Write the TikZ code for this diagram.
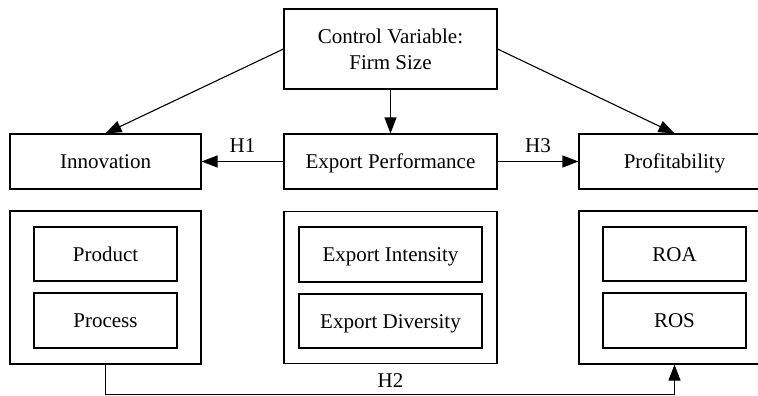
\documentclass[tikz,border=0pt]{standalone}
\usepackage{fontspec}
\setmainfont{Liberation Serif}
\usetikzlibrary{arrows.meta}

\begin{document}
\begin{tikzpicture}[x=1pt,y=-1pt,>={Triangle[length=16pt,width=12pt]},line cap=butt,line join=miter,
  box/.style={draw,line width=1.1pt,inner sep=0pt,font=\fontsize{21}{26}\selectfont,align=center,text height=14pt,text depth=0pt},
  link/.style={->,line width=1.1pt}]
\useasboundingbox (0,0) rectangle (758,396);
\clip (0,0) rectangle (758,396);
\coordinate (c) at (390.5,49);
\coordinate (I) at (105.5,161.5);
\coordinate (E) at (390.5,161.5);
\coordinate (P) at (674.5,161.5);
\coordinate (Iset) at (105.5,287.5);
\coordinate (Eset) at (390.5,287.5);
\coordinate (Pset) at (674.5,287.5);
\coordinate (h2) at (390.5,394.5);
% top row
\node[box,text height=,text depth=,minimum width=213pt,minimum height=80pt] (ctrl) at (c) {Control Variable:\\Firm Size};
\node[box,minimum width=191pt,minimum height=55pt] (inno) at (I) {Innovation};
\node[box,minimum width=213pt,minimum height=55pt] (expo) at (E) {Export Performance};
\node[box,minimum width=191pt,minimum height=55pt] (prof) at (P) {Profitability};
% measure boxes
\node[box,minimum width=191pt,minimum height=153pt] (innoset) at (Iset) {};
\node[box,minimum width=143pt,minimum height=54pt] (prod) at (105.5,254) {Product};
\node[box,minimum width=143pt,minimum height=55pt] (proc) at (105.5,320.5) {Process};
\node[box,minimum width=213pt,minimum height=152pt] (expset) at (Eset) {};
\node[box,minimum width=183pt,minimum height=55pt] (inten) at (390.5,254.5) {Export Intensity};
\node[box,minimum width=183pt,minimum height=54pt] (diver) at (390.5,321) {Export Diversity};
\node[box,minimum width=191pt,minimum height=153pt] (profset) at (Pset) {};
\node[box,minimum width=143pt,minimum height=54pt] (roa) at (674.5,254) {ROA};
\node[box,minimum width=143pt,minimum height=55pt] (ros) at (674.5,320.5) {ROS};
% links
\draw[link] (ctrl.west) -- (inno.north);
\draw[link] (ctrl.south) -- (expo.north);
\draw[link] (ctrl.east) -- (prof.north);
\draw[link] (expo.west) -- node[above=5pt,font=\fontsize{21}{26}\selectfont] (h1) {H1} (inno.east);
\draw[link] (expo.east) -- node[above=5pt,font=\fontsize{21}{26}\selectfont] (h3) {H3} (prof.west);
\draw[link] (innoset.south) |- (h2) -| (profset.south);
\node[font=\fontsize{21}{26}\selectfont,above=3pt] (h2lab) at (h2) {H2};
\end{tikzpicture}
\end{document}
